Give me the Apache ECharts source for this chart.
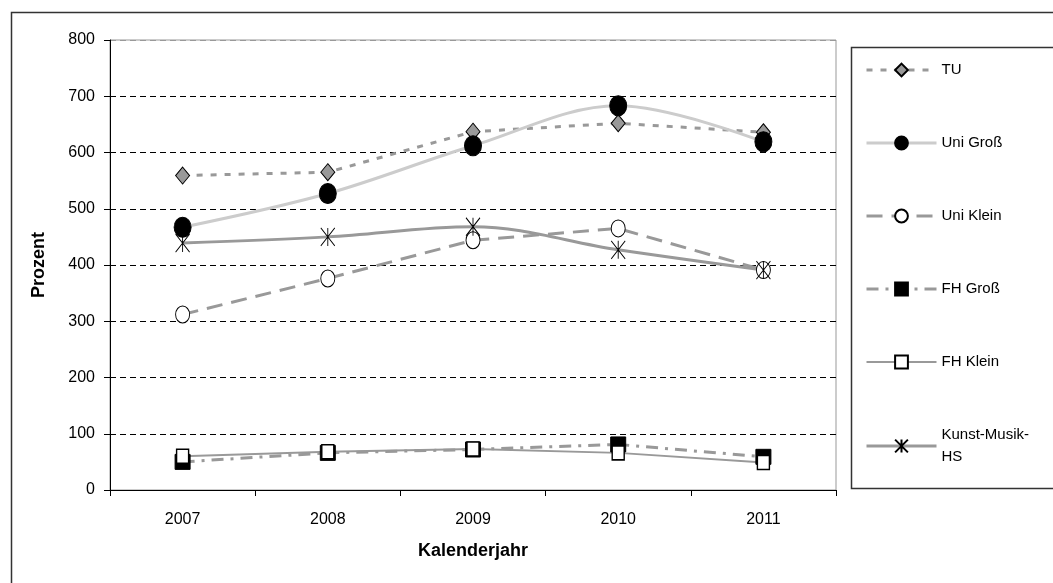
<!DOCTYPE html>
<html>
<head>
<meta charset="utf-8">
<script src="https://cdn.jsdelivr.net/npm/echarts@6/dist/echarts.min.js"></script>
<style>
  html, body { margin: 0; padding: 0; background: #fff; }
  #chart { width: 1053px; height: 583px; }
</style>
</head>
<body>
<div id="chart"></div>
<script>
// Kalenderjahre
const years = ['2007', '2008', '2009', '2010', '2011'];

// Werte in Prozent
const tu = [559, 565, 637, 652, 636];
const uniGross = [467, 527, 612, 683, 619];
const uniKlein = [312, 376, 444, 465, 391];
const fhGross = [50, 66, 72, 81, 59];
const fhKlein = [60, 68, 73, 66, 49];
const kunstMusik = [439, 450, 468, 427, 391];

const yTicks = [0, 100, 200, 300, 400, 500, 600, 700, 800];

const asterisk = 'path://M0,0L10,14M10,0L0,14M5,0L5,14';

const chart = echarts.init(document.getElementById('chart'));

const font = 'Liberation Sans, Arial, sans-serif';

const option = {
  backgroundColor: '#fff',
  textStyle: { fontFamily: font, color: '#000' },
  graphic: [
    // Rahmen um das Diagramm
    { type: 'rect', left: 9, top: 10, shape: { width: 1200, height: 700 },
      style: { fill: 'none', stroke: '#333', lineWidth: 1.5 }, silent: true },
    // Legendenrahmen
    { type: 'rect', left: 849, top: 45, shape: { width: 300, height: 441 },
      style: { fill: 'none', stroke: '#333', lineWidth: 1.5 }, silent: true }
  ],
  legend: {
    orient: 'vertical',
    left: 865,
    top: 59,
    itemWidth: 70,
    itemHeight: 16,
    itemGap: 51,
    padding: 0,
    textStyle: { fontSize: 15, color: '#000', lineHeight: 22, fontFamily: font },
    formatter: function (name) {
      return name === 'Kunst-Musik-HS' ? 'Kunst-Musik-\nHS' : name;
    },
    data: [
      { name: 'TU', lineStyle: { width: 3 } },
      { name: 'Uni Groß', lineStyle: { width: 3 } },
      { name: 'Uni Klein', lineStyle: { width: 3 } },
      { name: 'FH Groß', lineStyle: { width: 3 } },
      { name: 'FH Klein', lineStyle: { width: 2 } },
      { name: 'Kunst-Musik-HS', lineStyle: { width: 3 } }
    ]
  },
  grid: {
    left: 110,
    top: 40,
    right: 217,
    bottom: 93,
    show: true,
    borderColor: '#999',
    borderWidth: 1,
    containLabel: false
  },
  xAxis: {
    type: 'category',
    data: years,
    boundaryGap: true,
    name: 'Kalenderjahr',
    nameLocation: 'middle',
    nameGap: 52,
    nameTextStyle: { fontWeight: 'bold', fontSize: 18, color: '#000' },
    axisLine: { lineStyle: { color: '#000', width: 1 } },
    axisTick: { show: true, length: 6, lineStyle: { color: '#000' } },
    axisLabel: { fontSize: 16, color: '#000', margin: 22 },
    splitLine: { show: false }
  },
  yAxis: {
    type: 'value',
    min: yTicks[0],
    max: yTicks[yTicks.length - 1],
    interval: 100,
    name: 'Prozent',
    nameLocation: 'middle',
    nameRotate: 90,
    nameGap: 62,
    nameTextStyle: { fontWeight: 'bold', fontSize: 18, color: '#000' },
    axisLine: { show: true, lineStyle: { color: '#000', width: 1 } },
    axisTick: { show: true, length: 6, lineStyle: { color: '#000' } },
    axisLabel: { fontSize: 16, color: '#000', margin: 15 },
    splitLine: {
      show: true,
      lineStyle: {
        color: ['#000', '#000', '#000', '#000', '#000', '#000', '#000', '#000', '#999'],
        type: [6, 4],
        width: 1
      }
    }
  },
  series: [
    {
      name: 'TU',
      type: 'line',
      data: tu,
      symbol: 'diamond',
      symbolSize: [14, 17],
      itemStyle: { color: '#999', borderColor: '#000', borderWidth: 1 },
      lineStyle: { color: '#999', width: 3, type: [6, 8] }
    },
    {
      name: 'Uni Groß',
      type: 'line',
      data: uniGross,
      smooth: 0.35,
      symbol: 'circle',
      symbolSize: [17, 20],
      itemStyle: { color: '#000', borderColor: '#000', borderWidth: 1 },
      lineStyle: { color: '#ccc', width: 3 }
    },
    {
      name: 'Uni Klein',
      type: 'line',
      data: uniKlein,
      symbol: 'circle',
      symbolSize: [14, 17],
      itemStyle: { color: '#fff', borderColor: '#000', borderWidth: 1 },
      lineStyle: { color: '#999', width: 3, type: [16, 9] }
    },
    {
      name: 'FH Groß',
      type: 'line',
      data: fhGross,
      symbol: 'rect',
      symbolSize: [15, 15],
      itemStyle: { color: '#000', borderColor: '#000', borderWidth: 1 },
      lineStyle: { color: '#999', width: 3, type: [12, 7, 3, 7] }
    },
    {
      name: 'FH Klein',
      type: 'line',
      data: fhKlein,
      symbol: 'rect',
      symbolSize: [12, 14],
      itemStyle: { color: '#fff', borderColor: '#000', borderWidth: 1.5 },
      lineStyle: { color: '#999', width: 2 }
    },
    {
      name: 'Kunst-Musik-HS',
      type: 'line',
      data: kunstMusik,
      smooth: 0.35,
      symbol: asterisk,
      symbolSize: [14, 18],
      itemStyle: { color: '#000', borderColor: '#000', borderWidth: 1 },
      lineStyle: { color: '#999', width: 3 }
    }
  ]
};

chart.setOption(option);
</script>
</body>
</html>
